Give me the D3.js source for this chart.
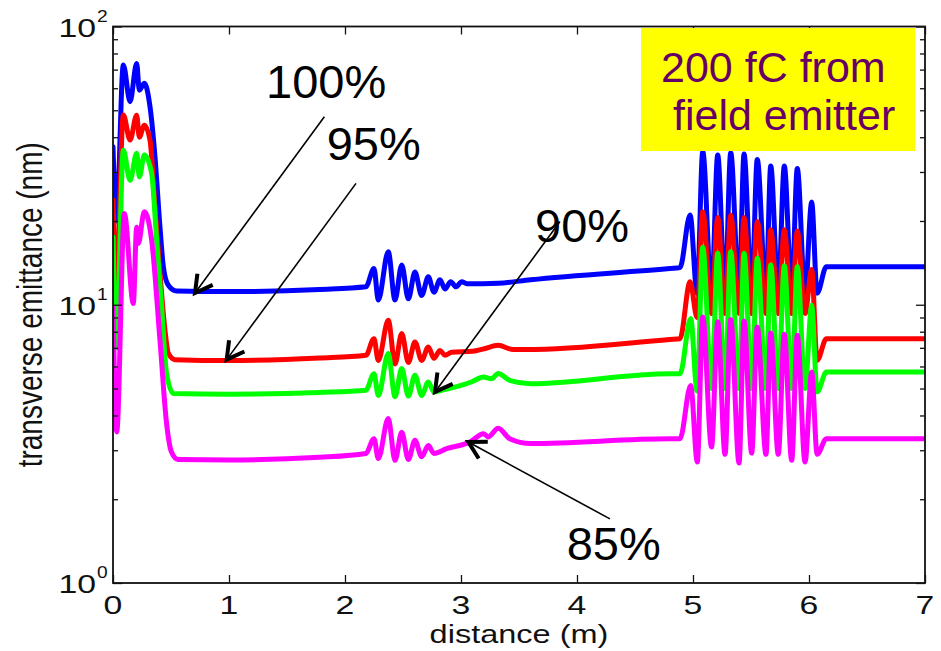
<!DOCTYPE html>
<html>
<head>
<meta charset="utf-8">
<script src="https://cdn.jsdelivr.net/npm/d3@7/dist/d3.min.js"></script>
<style>
  html, body { margin: 0; padding: 0; background: #fff; }
  svg { display: block; font-family: "Liberation Sans", Arial, Helvetica, sans-serif; }
</style>
</head>
<body>
<svg id="chart" width="941" height="651"></svg>
<script>
// Axis ticks
const distanceTicks = [0, 1, 2, 3, 4, 5, 6, 7];
const decadeTicks = [1, 10, 100];
const decadeExponents = ["0", "1", "2"];
const minorTicks = [2, 3, 4, 5, 6, 7, 8, 9, 20, 30, 40, 50, 60, 70, 80, 90];

// Transverse emittance (nm) vs distance (m), one trace per charge fraction
const emit100 = [
  [0, 37], [0.03, 20], [0.089, 72.7], [0.147, 53.7], [0.204, 73.7], [0.227, 59], [0.27, 62.5],
  [0.319, 51.5], [0.362, 34], [0.405, 19], [0.434, 13.7], [0.477, 11.75], [0.549, 11.2],
  [1.0, 11.15], [1.78, 11.35], [2.18, 11.6], [2.25, 13.5], [2.287, 10.4], [2.373, 15.5],
  [2.431, 10.4], [2.489, 13.9], [2.546, 10.5], [2.603, 13.1], [2.661, 10.8], [2.718, 12.6],
  [2.767, 11.1], [2.819, 12.3], [2.862, 11.4], [2.911, 12.1], [2.957, 11.6], [3.006, 12.1],
  [3.05, 11.9], [3.32, 11.95], [3.6, 12.3], [4.8, 13.5], [4.888, 13.6], [4.975, 21], [5.035, 11],
  [5.084, 35.5], [5.16, 11], [5.213, 34.5], [5.276, 11], [5.325, 35.2], [5.397, 11],
  [5.44, 34.8], [5.506, 11], [5.554, 33.3], [5.629, 11], [5.67, 31.5], [5.735, 11],
  [5.787, 31.5], [5.851, 11], [5.899, 30.9], [5.966, 11], [6.023, 23.4], [6.07, 11.0],
  [6.15, 13.7], [7.0, 13.7]
];
const emit95 = [
  [0, 23.8], [0.03, 12], [0.089, 48.1], [0.147, 39.1], [0.204, 48], [0.227, 40], [0.27, 44.2],
  [0.319, 39], [0.362, 22.5], [0.405, 13], [0.448, 8.1], [0.477, 6.7], [0.534, 6.35],
  [1.0, 6.3], [1.78, 6.43], [2.18, 6.58], [2.25, 7.55], [2.287, 6.31], [2.373, 8.8],
  [2.431, 6.13], [2.489, 7.88], [2.546, 6.2], [2.603, 7.35], [2.661, 6.31], [2.718, 7.05],
  [2.767, 6.42], [2.819, 6.85], [2.862, 6.58], [2.92, 6.75], [3.1, 6.8], [3.2, 6.95],
  [3.32, 7.15], [3.45, 6.9], [3.56, 6.9], [4.8, 7.5], [4.888, 7.55], [4.975, 12.1], [5.035, 9.0],
  [5.084, 21.6], [5.16, 9.3], [5.213, 20.6], [5.276, 9.3], [5.325, 21], [5.397, 9.3],
  [5.44, 20.6], [5.506, 9.3], [5.554, 19.9], [5.629, 9.3], [5.67, 18.6], [5.735, 9.3],
  [5.787, 18.6], [5.851, 9.3], [5.899, 18.4], [5.966, 9.3], [6.023, 13.4], [6.07, 6.32],
  [6.15, 7.55], [7.0, 7.55]
];
const emit90 = [
  [0, 17.5], [0.03, 7], [0.089, 35.9], [0.147, 28], [0.204, 35], [0.227, 28.8], [0.27, 34.5],
  [0.333, 29.7], [0.376, 17.1], [0.419, 9.8], [0.462, 5.67], [0.52, 4.8],
  [1.0, 4.77], [1.78, 4.84], [2.18, 4.93], [2.25, 5.65], [2.287, 4.72], [2.373, 6.68],
  [2.431, 4.67], [2.489, 5.9], [2.546, 4.7], [2.603, 5.58], [2.661, 4.72], [2.718, 5.28],
  [2.767, 4.86], [2.85, 4.95], [3.0, 5.13], [3.1, 5.3], [3.192, 5.5], [3.263, 5.42],
  [3.32, 5.66], [3.42, 5.35], [3.6, 5.2], [4.8, 5.65], [4.888, 5.65], [4.98, 8.92], [5.035, 4.9],
  [5.084, 16.1], [5.16, 5.0], [5.213, 15.3], [5.276, 5.0], [5.325, 15.5], [5.397, 5.0],
  [5.44, 15.3], [5.506, 5.0], [5.554, 14.7], [5.629, 5.0], [5.67, 13.9], [5.735, 5.0],
  [5.787, 13.8], [5.851, 5.0], [5.899, 13.7], [5.966, 5.0], [6.023, 9.96], [6.07, 4.86],
  [6.15, 5.73], [7.0, 5.73]
];
const emit85 = [
  [0, 9.8], [0.032, 3.49], [0.098, 21.3], [0.175, 10.1], [0.204, 19], [0.218, 16.6], [0.27, 21.6],
  [0.333, 17.1], [0.405, 7.45], [0.462, 3.74], [0.505, 2.95], [0.56, 2.78],
  [1.0, 2.77], [1.78, 2.83], [2.18, 2.92], [2.25, 3.3], [2.287, 2.8], [2.373, 3.9],
  [2.431, 2.76], [2.489, 3.48], [2.546, 2.78], [2.603, 3.26], [2.661, 2.84], [2.718, 3.12],
  [2.767, 2.92], [2.876, 3.04], [3.078, 3.21], [3.193, 3.44], [3.235, 3.35], [3.32, 3.6],
  [3.42, 3.3], [3.6, 3.17], [4.8, 3.3], [4.888, 3.3], [4.98, 5.13], [5.037, 2.72],
  [5.084, 9.04], [5.16, 3.08], [5.213, 8.68], [5.276, 2.9], [5.325, 8.86], [5.397, 2.7],
  [5.44, 8.75], [5.506, 2.93], [5.554, 8.32], [5.629, 2.9], [5.67, 7.92], [5.735, 2.9],
  [5.787, 7.83], [5.851, 2.76], [5.899, 7.77], [5.966, 2.72], [6.023, 5.73], [6.07, 2.9],
  [6.15, 3.3], [7.0, 3.3]
];

// Percent labels: text anchor, arrow tail and arrow tip, all in data units
const callouts = [
  { text: "100%", label: [1.319, 55.2], tail: [1.822, 47.4], tip: [0.707, 11.02] },
  { text: "95%",  label: [1.842, 33.1], tail: [2.095, 27.3], tip: [0.980, 6.35] },
  { text: "90%",  label: [3.638, 16.8], tail: [3.853, 19.9], tip: [2.776, 4.86] },
  { text: "85%",  label: [3.911, 1.205], tail: [4.284, 1.70], tip: [3.063, 3.21] }
];

const traces = [
  { data: emit100, color: "#0000ff" },
  { data: emit95,  color: "#ff0000" },
  { data: emit90,  color: "#00ff00" },
  { data: emit85,  color: "#ff00ff" }
];

const svg = d3.select("#chart");
const plot = { left: 113, right: 925, top: 26.5, bottom: 583 };

const x = d3.scaleLinear().domain([0, 7]).range([plot.left, plot.right]);
const y = d3.scaleLog().domain([1, 100]).range([plot.bottom, plot.top]);

svg.append("rect").attr("width", 941).attr("height", 651).attr("fill", "#fff");

svg.append("defs").append("clipPath").attr("id", "plot-clip")
  .append("rect")
  .attr("x", plot.left).attr("y", plot.top)
  .attr("width", plot.right - plot.left).attr("height", plot.bottom - plot.top);

// Traces
const line = d3.line()
  .x(d => x(d[0]))
  .y(d => y(d[1]))
  .curve(d3.curveMonotoneX);

svg.append("g").attr("clip-path", "url(#plot-clip)")
  .selectAll("path")
  .data(traces)
  .join("path")
  .attr("d", d => line(d.data))
  .attr("fill", "none")
  .attr("stroke", d => d.color)
  .attr("stroke-width", 5)
  .attr("stroke-linejoin", "round")
  .attr("stroke-linecap", "round");

// Ticks on all four sides, pointing inward
function tickAxis(axis, transform) {
  const g = svg.append("g").attr("transform", transform).call(axis);
  g.select(".domain").remove();
  g.selectAll("line").attr("stroke", "#111").attr("stroke-width", 1.3);
  g.selectAll("text").remove();
  return g;
}
tickAxis(d3.axisBottom(x).tickValues(distanceTicks).tickSize(-8).tickSizeOuter(0), `translate(0,${plot.bottom})`);
tickAxis(d3.axisTop(x).tickValues(distanceTicks).tickSize(-8).tickSizeOuter(0), `translate(0,${plot.top})`);
tickAxis(d3.axisLeft(y).tickValues(decadeTicks).tickSize(-9).tickSizeOuter(0), `translate(${plot.left},0)`);
tickAxis(d3.axisLeft(y).tickValues(minorTicks).tickSize(-5).tickSizeOuter(0), `translate(${plot.left},0)`);
tickAxis(d3.axisRight(y).tickValues(decadeTicks).tickSize(-9).tickSizeOuter(0), `translate(${plot.right},0)`);
tickAxis(d3.axisRight(y).tickValues(minorTicks).tickSize(-5).tickSizeOuter(0), `translate(${plot.right},0)`);

// Box frame
svg.append("rect")
  .attr("x", plot.left).attr("y", plot.top)
  .attr("width", plot.right - plot.left).attr("height", plot.bottom - plot.top)
  .attr("fill", "none").attr("stroke", "#111").attr("stroke-width", 1.8);

// Distance tick labels
svg.append("g").selectAll("text")
  .data(distanceTicks)
  .join("text")
  .attr("transform", d => `translate(${x(d)},${plot.bottom + 31}) scale(1.3,1)`)
  .attr("text-anchor", "middle")
  .attr("font-size", 26)
  .attr("fill", "#111")
  .text(d => d);

// Decade tick labels as 10 with superscript exponent
const decLab = svg.append("g").selectAll("g")
  .data(decadeTicks)
  .join("g")
  .attr("transform", d => `translate(${plot.left - 17},${y(d)})`);
decLab.append("text")
  .attr("transform", "translate(0,10) scale(1.3,1)")
  .attr("text-anchor", "end")
  .attr("font-size", 26)
  .attr("fill", "#111")
  .text("10");
decLab.append("text")
  .attr("transform", "translate(1,-5) scale(1.2,1)")
  .attr("font-size", 16)
  .attr("fill", "#111")
  .text((d, i) => decadeExponents[i]);

// Axis titles
svg.append("text")
  .attr("transform", `translate(${(plot.left + plot.right) / 2},${plot.bottom + 60}) scale(1.3,1)`)
  .attr("text-anchor", "middle")
  .attr("font-size", 25)
  .attr("fill", "#111")
  .text("distance (m)");

svg.append("text")
  .attr("transform", `translate(42,${(plot.top + plot.bottom) / 2}) rotate(-90) scale(1,1.25)`)
  .attr("text-anchor", "middle")
  .attr("font-size", 28)
  .attr("fill", "#111")
  .text("transverse emittance (nm)");

// Callout arrows and labels
svg.append("defs").append("marker")
  .attr("id", "arrowhead")
  .attr("markerUnits", "userSpaceOnUse")
  .attr("orient", "auto")
  .attr("markerWidth", 30).attr("markerHeight", 30)
  .attr("refX", 0).attr("refY", 0)
  .attr("viewBox", "-25 -15 30 30")
  .style("overflow", "visible")
  .append("path")
  .attr("d", "M-17,-9.5 L0,0 L-17,9.5")
  .attr("fill", "none")
  .attr("stroke", "#000")
  .attr("stroke-width", 4)
  .attr("stroke-linejoin", "miter");

const co = svg.append("g");
co.selectAll("line")
  .data(callouts)
  .join("line")
  .attr("x1", d => x(d.tail[0])).attr("y1", d => y(d.tail[1]))
  .attr("x2", d => x(d.tip[0])).attr("y2", d => y(d.tip[1]))
  .attr("stroke", "#000")
  .attr("stroke-width", 1.6)
  .attr("marker-end", "url(#arrowhead)");
co.selectAll("text")
  .data(callouts)
  .join("text")
  .attr("x", d => x(d.label[0]))
  .attr("y", d => y(d.label[1]))
  .attr("font-size", 47)
  .attr("fill", "#000")
  .text(d => d.text);

// Charge note
const note = svg.append("g");
note.append("rect")
  .attr("x", 641).attr("y", 28).attr("width", 274).attr("height", 123)
  .attr("fill", "#ffff00");
note.append("text")
  .attr("x", 661).attr("y", 82)
  .attr("font-size", 43).attr("fill", "#660066")
  .text("200 fC from");
note.append("text")
  .attr("x", 673).attr("y", 130)
  .attr("font-size", 43).attr("fill", "#660066")
  .text("field emitter");
</script>
</body>
</html>
